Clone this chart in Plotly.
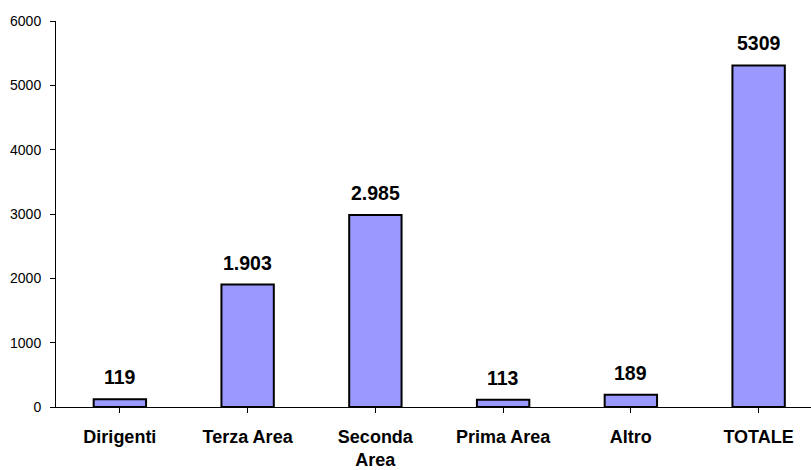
import plotly.graph_objects as go

categories = ["Dirigenti", "Terza Area", "Seconda<br>Area", "Prima Area", "Altro", "TOTALE"]
values = [119, 1903, 2985, 113, 189, 5309]
value_labels = ["119", "1.903", "2.985", "113", "189", "5309"]
y_ticks = [0, 1000, 2000, 3000, 4000, 5000, 6000]

FONT = "Liberation Sans, Arial, sans-serif"

fig = go.Figure()
fig.add_trace(go.Bar(
    x=list(range(len(categories))),
    y=values,
    width=0.41,
    marker=dict(color="#9999FF", line=dict(color="#000000", width=2)),
    hoverinfo="skip",
))

for i, (v, t) in enumerate(zip(values, value_labels)):
    fig.add_annotation(x=i, y=v, text="<b>%s</b>" % t, showarrow=False,
                       yanchor="bottom", yshift=9,
                       font=dict(family=FONT, size=19.5, color="#000000"))

fig.update_layout(
    width=811, height=470,
    margin=dict(l=56, r=0, t=21, b=60),
    paper_bgcolor="white", plot_bgcolor="white",
    showlegend=False,
    font=dict(family=FONT, color="#000000"),
)
fig.update_xaxes(
    tickmode="array", tickvals=list(range(len(categories))),
    ticktext=["<b>%s</b>" % c for c in categories],
    range=[-0.5, 5.41],
    showline=True, linecolor="#000000", linewidth=1,
    ticks="outside", tickson="boundaries", ticklen=5, tickcolor="#000000",
    showgrid=False, zeroline=False,
    tickfont=dict(family=FONT, size=18, color="#000000"),
    ticklabelstandoff=8,
)
fig.update_yaxes(
    range=[0, 6000], tickvals=y_ticks,
    showline=True, linecolor="#000000", linewidth=1,
    ticks="outside", ticklen=5, tickcolor="#000000",
    showgrid=False, zeroline=False,
    tickfont=dict(family=FONT, size=14, color="#000000"),
    ticklabelstandoff=6,
)

fig.write_html("out.html")
